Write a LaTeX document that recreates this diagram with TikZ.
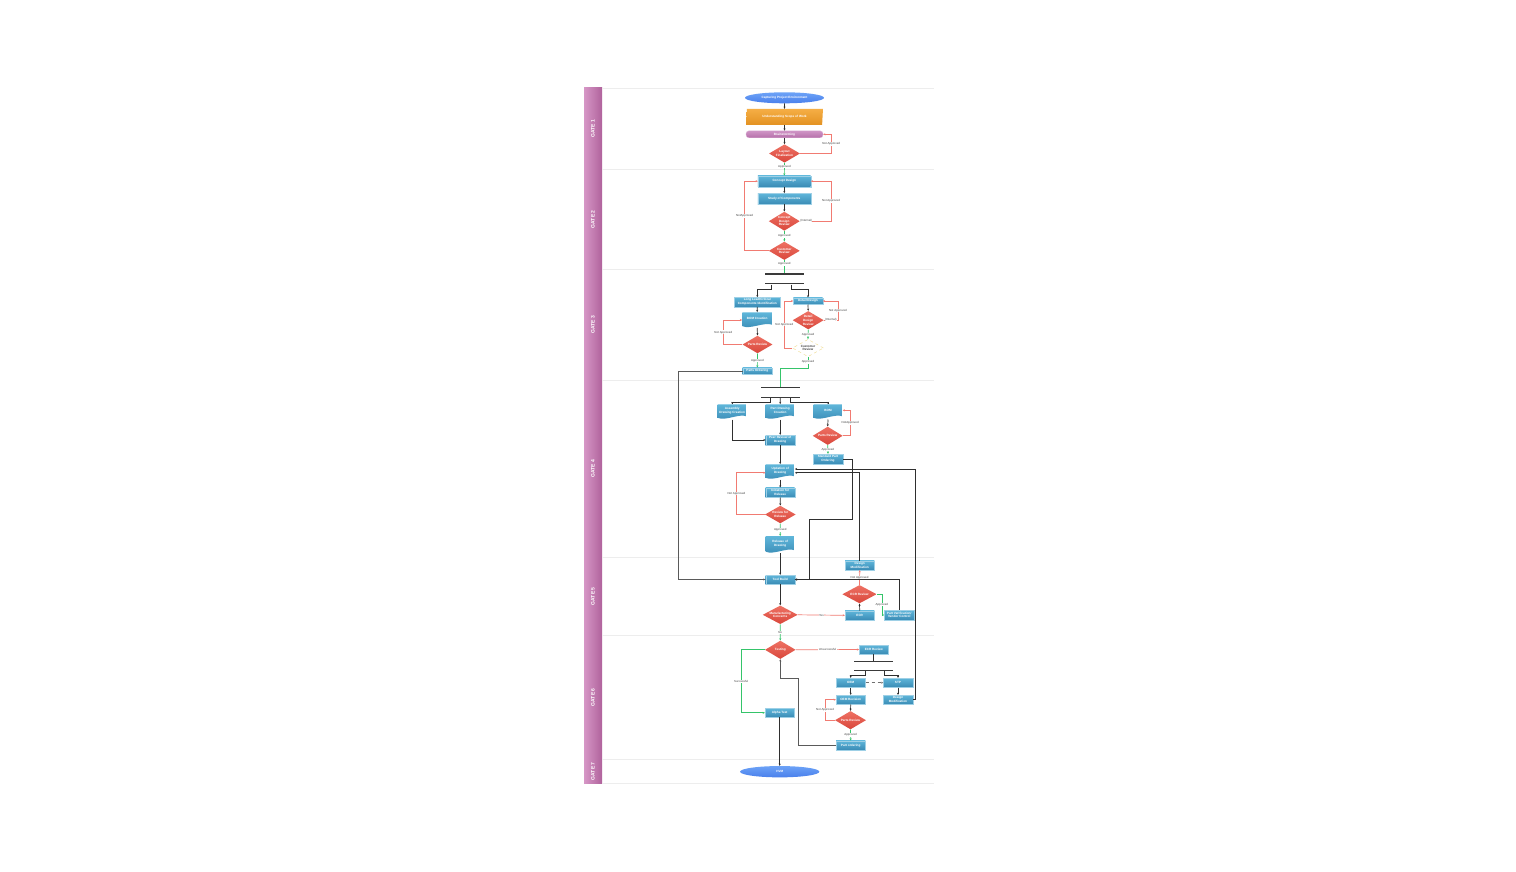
\documentclass[tikz,border=0pt]{standalone}
\usepackage{fontspec}
\setmainfont{Liberation Sans}
\usepackage{xcolor}
\usepackage{tikz}
\usetikzlibrary{positioning,calc,shapes.geometric,arrows.meta}
\definecolor{LaneLight}{HTML}{D697C6}
\definecolor{LaneDark}{HTML}{B0629C}
\definecolor{RuleGray}{HTML}{EDEDED}
\definecolor{BoxTop}{HTML}{5FB6DA}
\definecolor{BoxBottom}{HTML}{3A8BB5}
\definecolor{BoxLine}{HTML}{9ED0E6}
\definecolor{RedTop}{HTML}{EE7163}
\definecolor{RedBottom}{HTML}{D9473C}
\definecolor{EllTop}{HTML}{6CA2F7}
\definecolor{EllBottom}{HTML}{4A80EC}
\definecolor{OrangeTop}{HTML}{F5AE45}
\definecolor{OrangeBottom}{HTML}{E39222}
\definecolor{PurpleTop}{HTML}{CF94C6}
\definecolor{PurpleBottom}{HTML}{B670AA}
\definecolor{LoopRed}{HTML}{F17B72}
\definecolor{PassGreen}{HTML}{35C46A}
\definecolor{LineDark}{HTML}{2F2F2F}
\definecolor{HeavyGray}{HTML}{5A5A5A}
\definecolor{DashGray}{HTML}{707070}
\definecolor{BarGray}{HTML}{3A3A3A}
\definecolor{CustYellow}{HTML}{EED98A}
\definecolor{LabelText}{HTML}{444444}
\newcommand\nodefont{\fontsize{3.1}{3.7}\selectfont\bfseries}
\newcommand\lblfont{\fontsize{2.9}{3.4}\selectfont}
\tikzset{
  box/.style={rectangle, draw=BoxLine, line width=0.3pt, top color=BoxTop, bottom color=BoxBottom,
    text=white, font=\nodefont, align=center, inner sep=0pt, minimum width=29.3pt, minimum height=9.3pt},
  decision/.style={diamond, top color=RedTop, bottom color=RedBottom, text=white, font=\nodefont,
    align=center, inner sep=0pt, aspect=1.7, minimum width=31pt, minimum height=18.3pt},
  docbox/.style={rectangle, inner sep=0pt, minimum width=29pt, minimum height=15pt, text=white,
    font=\nodefont, align=center, text depth=3pt,
    path picture={
      \shade[top color=BoxTop, bottom color=BoxBottom]
        (path picture bounding box.north west) -- (path picture bounding box.north east)
        -- ([yshift=3pt]path picture bounding box.south east)
        .. controls ([xshift=-8pt,yshift=6pt]path picture bounding box.south east)
        and ([xshift=8pt,yshift=-2pt]path picture bounding box.south west)
        .. ([yshift=1.5pt]path picture bounding box.south west) -- cycle;
    }},
  terminal/.style={ellipse, top color=EllTop, bottom color=EllBottom, text=white, font=\nodefont,
    inner sep=0pt, minimum width=79pt, minimum height=11pt},
  forkbar/.style={rectangle, fill=BarGray, inner sep=0pt, minimum width=39pt, minimum height=1.2pt},
  gatelabel/.style={rotate=90, text=white, font=\fontsize{5}{6}\selectfont\bfseries, inner sep=0pt},
  flow/.style={draw=LineDark, line width=0.7pt},
  heavy/.style={draw=HeavyGray, line width=1pt},
  nogo/.style={draw=LoopRed, line width=0.7pt},
  okgo/.style={draw=PassGreen, line width=0.7pt},
  arr/.style={-{Stealth[length=2.2pt,width=2pt]}},
  lbl/.style={font=\lblfont, fill=white, inner sep=0.4pt, text=LabelText},
}
\begin{document}
\begin{tikzpicture}[x=1pt,y=-1pt]
  \fill[white] (0,0) rectangle (1516,872);
  \shade[left color=LaneLight, right color=LaneDark] (584,88) rectangle (602,783.3);
  \foreach \ya/\yb/\g in {88/169.3/1,169.3/269.3/2,269.3/380.3/3,380.3/557.3/4,557.3/635.3/5,635.3/759.3/6,759.3/783.3/7}{
    \draw[RuleGray, line width=0.4pt] (602,\ya) -- (934,\ya);
    \node[gatelabel] (gate\g) at (593,{(\ya+\yb)/2}) {GATE \g};
  }
  \draw[RuleGray, line width=0.4pt] (602,783.3) -- (934,783.3);

  % gate 1
  \node[terminal] (cpe) at (784.5,97.8) {Capturing Project Environment};
  \node[trapezium, trapezium left angle=80, trapezium right angle=100, trapezium stretches=true,
    top color=OrangeTop, bottom color=OrangeBottom, text=white, font=\nodefont, inner sep=0pt,
    minimum width=77pt, minimum height=16pt] (usw) at (784.5,117) {Understanding Scope of Work};
  \node[rectangle, rounded corners=3pt, draw=PurpleTop!70!white, line width=0.3pt, top color=PurpleTop,
    bottom color=PurpleBottom, text=white, font=\nodefont, inner sep=0pt, minimum width=77pt,
    minimum height=7pt] (brain) at (784.5,134.3) {Brainstorming};
  \node[decision] (layout) at (784.5,153.5) {Layout\\Finalization};

  % gate 2
  \node[box, minimum width=52.7pt, minimum height=11pt] (cd) at (784.3,181.2) {Concept Design};
  \node[box, minimum width=52.7pt, minimum height=11pt] (soc) at (784.3,198.8) {Study of Components};
  \node[decision, minimum height=19pt] (cdr) at (784.3,221.2) {Concept\\Design\\Review};
  \node[decision] (cust) at (784.3,250.8) {Customer\\Review};

  % gate 3
  \node[forkbar] (bar1) at (784.3,274) {};
  \node[forkbar] (bar2) at (784.3,283.7) {};
  \node[box, minimum width=46pt] (ll) at (757.3,302) {Long Lead/Critical\\Components Identification};
  \node[box, minimum height=6.7pt] (dd) at (808,301) {Detail Design};
  \node[docbox, minimum width=29.7pt, minimum height=15.4pt] (bom) at (757.2,320) {BOM Creation};
  \node[decision, minimum width=30pt, minimum height=17.6pt] (pr3) at (757.5,344.5) {Parts Review};
  \node[box, minimum height=6.7pt] (po) at (757.3,371) {Parts Ordering};
  \node[decision] (ddr) at (808.2,320.2) {Detail\\Design\\Review};
  \node[diamond, draw=CustYellow, dashed, line width=0.4pt, fill=white, text=LabelText, font=\nodefont,
    align=center, inner sep=0pt, aspect=1.7, minimum width=31pt, minimum height=17.3pt] (cr3) at (808,348) {Customer\\Review};

  % gate 4
  \node[forkbar, minimum width=38.7pt] (bar3) at (780.3,387.7) {};
  \node[forkbar, minimum width=38.7pt] (bar4) at (780.3,397.3) {};
  \node[docbox] (adc) at (732.2,411.8) {Assembly\\Drawing Creation};
  \node[docbox] (pdc) at (780.2,411.8) {Part Drawing\\Creation};
  \node[docbox] (bom4) at (828,411.8) {BOM};
  \node[decision, minimum width=30pt] (pr4) at (827.7,435.8) {Parts Review};
  \node[box, minimum height=10pt] (spo) at (828,459) {Standard Part\\Ordering};
  \node[box, minimum width=29pt, minimum height=10pt] (prd) at (780.2,440) {Peer Review of\\Drawing};
  \node[docbox] (upd) at (780.2,471.8) {Updation of\\Drawing};
  \node[box, minimum width=29pt, minimum height=9.7pt] (ifr) at (780.2,492.5) {Initiation for\\Release};
  \node[decision, minimum width=30.7pt, minimum height=17.6pt] (rfr) at (780.3,514.5) {Review for\\Release};
  \node[docbox, minimum height=17pt] (rod) at (780.2,544.7) {Release of\\Drawing};

  % gate 5
  \node[box, minimum width=29pt, minimum height=9pt] (tb) at (780.2,579.5) {Tool Build};
  \node[box] (dm5) at (859.7,565.3) {Design\\Modification};
  \node[decision, minimum width=34.3pt] (ecrr) at (859.5,594.2) {ECR Review};
  \node[box] (ecr) at (859.7,615.3) {ECR};
  \node[decision, minimum width=35pt] (mc) at (780.2,614.8) {Manufacturing\\Concerns};
  \node[box, minimum width=29.7pt, minimum height=10pt] (pv) at (899.2,615) {Part Verification/\\Vendor Control};

  % gate 6
  \node[decision, minimum width=30.7pt] (test) at (780.3,649.8) {Testing};
  \node[box, minimum width=29pt, minimum height=9pt] (ecrr6) at (873.8,649.5) {ECR Review};
  \node[forkbar] (bar5) at (873.8,661.3) {};
  \node[forkbar] (bar6) at (873.8,670.3) {};
  \node[box] (oem) at (850.7,682.7) {OEM};
  \node[box] (stp) at (898,682.7) {STP};
  \node[box] (oemr) at (850.7,699.7) {OEM Revision};
  \node[box] (dm6) at (898,699.7) {Design\\Modification};
  \node[decision] (pr6) at (850.5,720.2) {Parts Review};
  \node[box] (pord) at (850.7,745.3) {Part ordering};
  \node[box, minimum height=9pt] (alpha) at (779.7,712.8) {Alpha Test};

  % gate 7
  \node[terminal, minimum width=79.3pt, minimum height=11.3pt] (hvm) at (779.7,771.7) {HVM};

  % connectors
  \draw[flow,arr] (cpe.south) -- (usw.north);
  \draw[flow,arr] (usw.south) -- (brain.north);
  \draw[flow,arr] (brain.south) -- (layout.north);
  \draw[nogo,arr] (layout.east) -| node[lbl,pos=0.75]{Not Approved} ([xshift=8pt]brain.east) -- (brain.east);
  \draw[okgo,arr] (layout.south) -- node[lbl,pos=0.3]{Approved} (cd.north);

  \draw[flow,arr] (cd.south) -- (soc.north);
  \draw[flow,arr] (soc.south) -- (cdr.north);
  \draw[nogo,arr] (cdr.east) -- node[lbl,pos=0.2]{(Internal)} ++(31,0) |- node[lbl,pos=0.25]{Not Approved} (cd.east);
  \draw[okgo,arr] (cdr.south) -- node[lbl]{Approved} (cust.north);
  \draw[nogo,arr] (cust.west) -- ++(-24,0) |- node[lbl,pos=0.25]{NotApproved} (cd.west);
  \draw[okgo] (cust.south) -- node[lbl,pos=0.3]{Approved} (bar1.north);

  \draw[flow,arr] ([xshift=-13.3pt]bar2.south) -- ++(0,5) -| (ll.north);
  \draw[flow,arr] ([xshift=7pt]bar2.south) -- ++(0,5) -| (dd.north);
  \draw[flow,arr] (ll.south) -- (bom.north);
  \draw[flow,arr] (bom.south) -- (pr3.north);
  \draw[nogo,arr] (pr3.west) -- ++(-19,0) |- node[lbl,pos=0.25]{Not Approved} (bom.west);
  \draw[okgo,arr] (pr3.south) -- node[lbl]{Approved} (po.north);
  \draw[heavy,arr] (po.west) -- ++(-64,0) |- (tb.west);
  \draw[flow,arr] (dd.south) -- (ddr.north);
  \draw[nogo,arr] (ddr.east) -- node[lbl]{(Internal)} ++(14,0) |- node[lbl,pos=0.25]{Not Approved} (dd.east);
  \draw[okgo,arr] (ddr.south) -- node[lbl]{Approved} (cr3.north);
  \draw[nogo,arr] (cr3.west) -- ++(-8,0) |- node[lbl,pos=0.25]{Not Approved} (dd.west);
  \draw[okgo] (cr3.south) -- node[lbl,pos=0.45]{Approved} ++(0,11) -| (bar3.north);

  \draw[flow,arr] ([xshift=-10pt]bar4.south) -- ++(0,4.4) -| (adc.north);
  \draw[flow,arr] (bar4.south) -- (pdc.north);
  \draw[flow,arr] ([xshift=10.4pt]bar4.south) -- ++(0,4.4) -| (bom4.north);
  \draw[flow,arr] (adc.south) |- (prd.west);
  \draw[flow,arr] (pdc.south) -- (prd.north);
  \draw[flow,arr] (bom4.south) -- (pr4.north);
  \draw[nogo,arr] (pr4.east) -- ++(7.3,0) |- node[lbl,pos=0.25]{NotApproved} ([yshift=1.5pt]bom4.east);
  \draw[okgo,arr] (pr4.south) -- node[lbl]{Approved} (spo.north);
  \draw[flow,arr] (prd.south) -- (upd.north);
  \draw[flow,arr] (upd.south) -- (ifr.north);
  \draw[flow,arr] (ifr.south) -- (rfr.north);
  \draw[nogo,arr] (rfr.west) -- ++(-28.3,0) |- node[lbl,pos=0.25]{Not Approved} ([yshift=-1pt]upd.west);
  \draw[okgo,arr] (rfr.south) -- node[lbl]{Approved} (rod.north);
  \draw[flow,arr] (rod.south) -- (tb.north);
  \draw[flow,arr] (spo.east) -- ++(10,0) -- ++(0,60.7) -| ([xshift=14.5pt]tb.east) -- (tb.east);
  \draw[flow,arr] (dm5.north) |- ([yshift=-1pt]upd.east);
  \draw[flow,arr] (dm6.east) -- ++(2.3,0) |- ([yshift=2.8pt]upd.east);

  \draw[flow,arr] (tb.south) -- (mc.north);
  \draw[nogo,arr] (mc.east) -- node[lbl]{Yes} (ecr.west);
  \draw[flow,arr] (ecr.north) -- (ecrr.south);
  \draw[nogo,arr] (ecrr.north) -- node[lbl]{Not Approved} (dm5.south);
  \draw[okgo,arr] (ecrr.east) -- ++(5,0) |- node[lbl,pos=0.25]{Approved} (pv.west);
  \draw[flow,arr] (pv.north) |- (tb.east);
  \draw[okgo,arr] (mc.south) -- node[lbl]{No} (test.north);

  \draw[nogo,arr] (test.east) -- node[lbl]{Unsuccessful} (ecrr6.west);
  \draw[flow] (ecrr6.south) -- (bar5.north);
  \draw[flow,arr] ([xshift=-8.1pt]bar6.south) -- ++(0,4.4) -| (oem.north);
  \draw[flow,arr] ([xshift=10.2pt]bar6.south) -- ++(0,4.4) -| (stp.north);
  \draw[flow,arr,draw=DashGray,dashed] (oem.east) -- (stp.west);
  \draw[flow,arr] (stp.south) -- (dm6.north);
  \draw[flow,arr] (oem.south) -- (oemr.north);
  \draw[flow,arr] (oemr.south) -- (pr6.north);
  \draw[nogo,arr] (pr6.west) -- ++(-9.7,0) |- node[lbl,pos=0.25]{Not Approved} (oemr.west);
  \draw[okgo,arr] (pr6.south) -- node[lbl]{Approved} (pord.north);
  \draw[heavy,arr] (pord.west) -- ++(-37.35,0) -- ++(0,-66.6) -| (test.south);
  \draw[okgo,arr] (test.west) -- ++(-23.65,0) |- node[lbl,pos=0.25]{Successful} (alpha.west);
  \draw[flow,arr] (alpha.south) -- (hvm.north);
\end{tikzpicture}
\end{document}
